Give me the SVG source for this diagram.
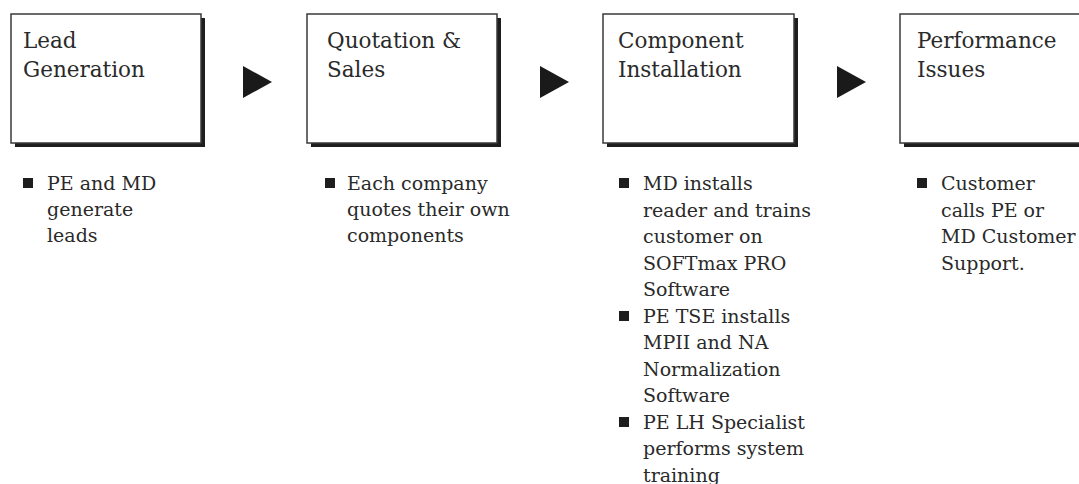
<svg xmlns="http://www.w3.org/2000/svg" width="1079" height="484" viewBox="0 0 1079 484">
<style>
.box{fill:#fff;stroke:#3a3a3a;stroke-width:1.5}
.shadow{fill:#1e1e1e}
.title{font-family:"DejaVu Serif","Liberation Serif",serif;font-size:21.5px;fill:#2a2a2a}
.body{font-family:"DejaVu Serif","Liberation Serif",serif;font-size:19px;fill:#2a2a2a}
.bullet{fill:#1e1e1e}
.arrow{fill:#1a1a1a}
</style>
<rect width="1079" height="484" fill="#fff"/>
<g id="connectors">
<polygon class="arrow" points="243,66 272,82 243,98"/>
<polygon class="arrow" points="540,66 569,82 540,98"/>
<polygon class="arrow" points="837,66 866,82 837,98"/>
</g>
<g id="lead-generation">
<rect class="shadow" x="15" y="18" width="190" height="129"/>
<rect class="box" x="11" y="14" width="190" height="129"/>
<text class="title" x="23"><tspan x="23" y="48">Lead</tspan><tspan x="23" y="77">Generation</tspan></text>
<rect class="bullet" x="23" y="178" width="10" height="10"/>
<text class="body"><tspan x="47" y="190">PE and MD</tspan><tspan x="47" y="216">generate</tspan><tspan x="47" y="242">leads</tspan></text>
</g>
<g id="quotation-sales">
<rect class="shadow" x="311" y="18" width="190" height="129"/>
<rect class="box" x="307" y="14" width="190" height="129"/>
<text class="title"><tspan x="327" y="48">Quotation &amp;</tspan><tspan x="327" y="77">Sales</tspan></text>
<rect class="bullet" x="325" y="178" width="10" height="10"/>
<text class="body"><tspan x="347" y="190">Each company</tspan><tspan x="347" y="216">quotes their own</tspan><tspan x="347" y="242">components</tspan></text>
</g>
<g id="component-installation">
<rect class="shadow" x="607" y="18" width="191" height="129"/>
<rect class="box" x="603" y="14" width="191" height="129"/>
<text class="title"><tspan x="618" y="48">Component</tspan><tspan x="618" y="77">Installation</tspan></text>
<rect class="bullet" x="619" y="178" width="10" height="10"/>
<rect class="bullet" x="619" y="311" width="10" height="10"/>
<rect class="bullet" x="619" y="417" width="10" height="10"/>
<text class="body"><tspan x="643" y="190">MD installs</tspan><tspan x="643" y="216.5">reader and trains</tspan><tspan x="643" y="243">customer on</tspan><tspan x="643" y="269.5">SOFTmax PRO</tspan><tspan x="643" y="296">Software</tspan><tspan x="643" y="322.5">PE TSE installs</tspan><tspan x="643" y="349">MPII and NA</tspan><tspan x="643" y="375.5">Normalization</tspan><tspan x="643" y="402">Software</tspan><tspan x="643" y="428.5">PE LH Specialist</tspan><tspan x="643" y="455">performs system</tspan><tspan x="643" y="481.5">training</tspan></text>
</g>
<g id="performance-issues">
<rect class="shadow" x="904" y="18" width="200" height="129"/>
<rect class="box" x="900" y="14" width="200" height="129"/>
<text class="title"><tspan x="917" y="48">Performance</tspan><tspan x="917" y="77">Issues</tspan></text>
<rect class="bullet" x="917" y="178" width="10" height="10"/>
<text class="body"><tspan x="941" y="190">Customer</tspan><tspan x="941" y="216.5">calls PE or</tspan><tspan x="941" y="243">MD Customer</tspan><tspan x="941" y="269.5">Support.</tspan></text>
</g>
</svg>
